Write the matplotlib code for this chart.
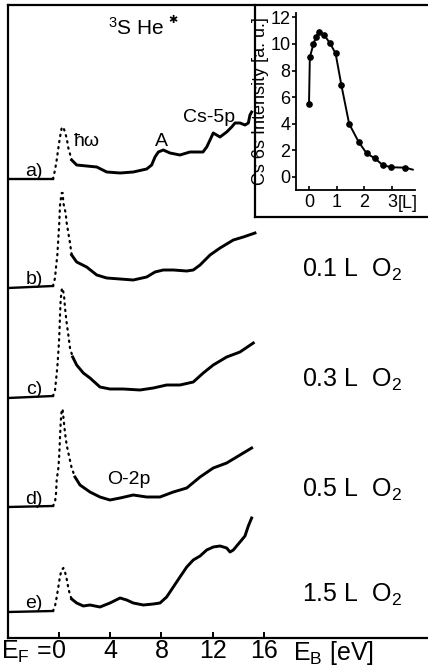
import numpy as np
import matplotlib
matplotlib.use("Agg")
import matplotlib.pyplot as plt

plt.rcParams["font.family"] = ["Liberation Sans", "DejaVu Sans"]
plt.rcParams["mathtext.fontset"] = "custom"
plt.rcParams["mathtext.rm"] = "Liberation Sans"
plt.rcParams["mathtext.it"] = "Liberation Sans"
plt.rcParams["mathtext.bf"] = "Liberation Sans:bold"

# spectra: binding energy (eV) and intensity above each curve's own baseline (arb.)
energy_a = [-3.98, -0.47, -0.31, -0.18, -0.05, 0.08, 0.21, 0.34, 0.60, 0.73, 0.99, 1.38,
            2.16, 2.95, 3.73, 4.77, 5.80, 6.85, 7.24, 7.50, 7.76, 8.15, 8.67, 9.45, 10.23,
            11.02, 11.25, 11.54, 11.80, 12.05, 12.58, 13.10, 13.49, 13.75, 14.14, 14.53,
            14.79, 14.92, 15.05]
counts_a = [0, 0, 9, 19, 31, 42, 51, 52, 41, 31, 19, 14,
            13, 12, 7, 6, 7, 10, 14, 22, 27, 29, 26, 24, 27,
            27, 27, 32, 39, 46, 42, 47, 52, 56, 56, 54,
            56, 64, 67]

energy_b = [-3.98, -0.47, -0.31, -0.23, -0.13, -0.05, 0.02, 0.08, 0.21, 0.29, 0.34, 0.52,
            0.60, 0.73, 0.86, 0.99, 1.38, 2.16, 2.95, 3.73, 4.77, 5.80, 6.85, 7.50, 8.15,
            8.93, 9.98, 10.49, 11.02, 11.80, 12.58, 13.62, 14.40, 15.31]
counts_b = [-1, 1, 9, 20, 32, 49, 64, 82, 94, 94, 84, 74,
            64, 54, 44, 32, 25, 20, 12, 9, 8, 7, 10, 15, 17,
            17, 16, 17, 22, 32, 39, 47, 50, 54]

energy_c = [-3.98, -0.47, -0.31, -0.23, -0.13, -0.05, 0.02, 0.08, 0.13, 0.21, 0.27, 0.39,
            0.47, 0.60, 0.73, 0.86, 1.07, 1.38, 1.90, 2.42, 3.20, 3.98, 5.02, 6.33, 7.37,
            8.41, 9.45, 10.49, 11.27, 12.05, 13.10, 14.14, 15.18]
counts_c = [-1, 1, 7, 17, 30, 45, 60, 82, 97, 107, 109, 102,
            89, 74, 62, 49, 40, 32, 24, 19, 10, 8, 8, 7, 9,
            12, 12, 15, 24, 32, 40, 45, 54]

energy_d = [-3.98, -0.47, -0.31, -0.23, -0.18, -0.05, 0.02, 0.08, 0.13, 0.21, 0.28, 0.34,
            0.47, 0.60, 0.80, 0.99, 1.25, 1.64, 2.42, 3.20, 3.98, 4.77, 5.80, 6.85, 7.89,
            8.93, 9.98, 11.02, 12.05, 13.10, 14.14, 15.05]
counts_d = [0, 1, 5, 14, 27, 39, 52, 70, 84, 97, 98, 90,
            74, 62, 50, 39, 30, 22, 15, 10, 7, 9, 12, 10, 10,
            15, 19, 30, 39, 44, 52, 59]

energy_e = [-3.98, -0.47, -0.31, -0.18, -0.05, 0.08, 0.21, 0.34, 0.47, 0.60, 0.73, 0.86,
            0.99, 1.38, 1.90, 2.42, 3.20, 3.98, 4.77, 5.29, 5.80, 6.59, 7.37, 7.89, 8.41,
            8.93, 9.45, 9.98, 10.49, 11.02, 11.54, 12.05, 12.58, 13.10, 13.36, 13.62,
            14.14, 14.53, 14.79, 15.05]
counts_e = [0, 1, 6, 15, 25, 36, 42, 44, 40, 33, 24, 17,
            13, 9, 6, 7, 5, 9, 14, 12, 9, 7, 8, 9, 15,
            25, 35, 45, 52, 56, 62, 65, 66, 64, 60, 62,
            70, 76, 86, 94]

spectra = [(energy_a, counts_a), (energy_b, counts_b), (energy_c, counts_c),
           (energy_d, counts_d), (energy_e, counts_e)]
offsets = [459, 351, 241, 131, 26]
curve_labels = ["a)", "b)", "c)", "d)", "e)"]
exposure_labels = ["", "0.1 L  O$_2$", "0.3 L  O$_2$", "0.5 L  O$_2$", "1.5 L  O$_2$"]
edge_end = [0.99, 0.99, 1.07, 1.25, 0.99]

# inset: Cs 6s intensity vs O2 exposure
exposure_L = [0.0, 0.03, 0.16, 0.25, 0.37, 0.54, 0.76, 0.96, 1.17, 1.45, 1.79, 2.08,
              2.38, 2.66, 2.96, 3.48]
cs6s = [5.5, 9.0, 10.0, 10.5, 10.9, 10.7, 10.05, 9.3, 6.9, 4.0, 2.65, 1.78,
        1.4, 0.9, 0.73, 0.7]
fit_tail_L = [3.48, 3.75]
fit_tail_I = [0.7, 0.55]

fig = plt.figure(figsize=(4.28, 6.72), dpi=100)
W, H = 428, 672
ax = fig.add_axes([8 / W, (H - 638) / H, 430 / W, (638 - 5) / H])
ax.set_xlim(-3.984, (438 - 59) / 12.8)
ax.set_ylim(0, 633)

for (e, c), off, lab, exp, e_end in zip(spectra, offsets, curve_labels, exposure_labels, edge_end):
    e = np.array(e)
    y = np.array(c) + off
    base = e <= -0.47
    edge = (e >= -0.47) & (e <= e_end)
    rest = e >= e_end
    ax.plot(e[base], y[base], color="black", lw=1.7)
    ax.plot(e[edge], y[edge], color="black", lw=1.6, ls=(0, (0.6, 2.2)),
            dash_capstyle="round")
    ax.plot(e[rest], y[rest], color="black", lw=2.1)
    ax.text(-1.95, off + 8, lab, fontsize=14, ha="center", va="center")
    if exp:
        ax.text(19.0, off + 17, exp, fontsize=18, ha="left", va="center")

ax.text(6.0, 610, r"$^3$S He", fontsize=15, ha="center", va="center")
ax.text(8.9, 618, "✱", fontsize=8, ha="center", va="center",
        family=["DejaVu Sans"], fontweight="bold")
ax.text(2.19, 496, "ħω", fontsize=14, ha="center", va="center")
ax.text(7.97, 497, "A", fontsize=14, ha="center", va="center")
ax.text(11.72, 520, "Cs-5p", fontsize=14, ha="center", va="center")
ax.text(5.47, 159, "O-2p", fontsize=14, ha="center", va="center")

ax.spines["right"].set_visible(False)
for s in ["left", "bottom", "top"]:
    ax.spines[s].set_linewidth(1.6)
ax.set_xticks([0, 4, 8, 12, 16])
ax.set_xticklabels(["0", "4", "8", "12", "16"])
ax.set_yticks([])
ax.tick_params(axis="x", direction="in", length=4, width=1.4, labelsize=18, pad=0.5)
ax.text(-0.55, -0.001, "E$_F$ =", transform=ax.get_xaxis_transform(),
        fontsize=18, ha="right", va="top")
ax.text(18.3, -0.001, "E$_B$ [eV]", transform=ax.get_xaxis_transform(),
        fontsize=18, ha="left", va="top")

# inset frame
frame = fig.add_axes([255 / W, (H - 217) / H, 180 / W, (217 - 5) / H])
frame.set_xticks([])
frame.set_yticks([])
frame.patch.set_alpha(0)
frame.spines["right"].set_visible(False)
frame.spines["top"].set_visible(False)
for s in ["left", "bottom"]:
    frame.spines[s].set_linewidth(1.6)

ins = fig.add_axes([296 / W, (H - 190) / H, (415 - 296) / W, (190 - 13) / H])
ins.patch.set_alpha(0)
ins.plot(exposure_L, cs6s, color="black", lw=1.4, marker="o", ms=3.8)
ins.plot(fit_tail_L, fit_tail_I, color="black", lw=1.4)
ins.set_xlim(-0.47, 3.83)
ins.set_ylim(-0.98, 12.33)
ins.set_xticks([0, 1, 2, 3])
ins.set_yticks([0, 2, 4, 6, 8, 10, 12])
ins.spines["right"].set_visible(False)
ins.spines["top"].set_visible(False)
for s in ["left", "bottom"]:
    ins.spines[s].set_linewidth(1.3)
ins.tick_params(axis="x", direction="in", length=3, width=1.2, labelsize=13, pad=3)
ins.tick_params(axis="y", direction="out", length=3, width=1.2, labelsize=13, pad=1)
ins.text(3.22, -0.03, "[L]", transform=ins.get_xaxis_transform(),
         fontsize=13, ha="left", va="top")
ins.set_ylabel("Cs 6s Intensity [a. u.]", fontsize=13, labelpad=1)

fig.savefig("out.png", dpi=100)
